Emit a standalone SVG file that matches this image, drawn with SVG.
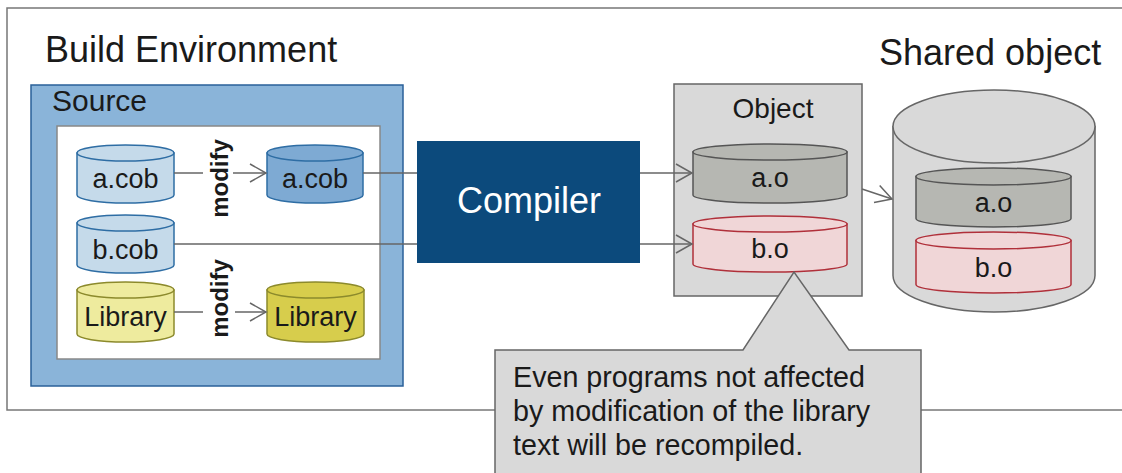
<svg xmlns="http://www.w3.org/2000/svg" width="1122" height="473" viewBox="0 0 1122 473">
<style>
text{font-family:"Liberation Sans",Arial,sans-serif;fill:#1a1a1a}
.title{font-size:36px}
.lbl{font-size:27px;text-anchor:middle}
.cyl-l{fill:#c5daea;stroke:#2e6da4;stroke-width:1.5}
.cyl-d{fill:#7eaad3;stroke:#2e6da4;stroke-width:1.5}
.lib-l{fill:#eeeb9e;stroke:#8c8a2c;stroke-width:1.5}
.lib-d{fill:#d7cd4c;stroke:#8c8a2c;stroke-width:1.5}
.obj-a{fill:#b6b7b2;stroke:#555;stroke-width:1.5}
.obj-b{fill:#f0d6d7;stroke:#b0303a;stroke-width:1.5}
.gray{fill:#d9d9d9;stroke:#666;stroke-width:1.5}
.conn line{stroke:#666;stroke-width:1.5;fill:none}
.arr{marker-end:url(#head)}
.mod{font-size:24px;font-weight:bold;text-anchor:middle}
.note{font-size:28.7px}
</style>
<defs>
<marker id="head" markerUnits="userSpaceOnUse" markerWidth="20" markerHeight="22" viewBox="-18 -11 20 22" refX="0" refY="0" orient="auto">
<path d="M-16,-9 L0,0 L-16,9" fill="none" stroke="#666" stroke-width="1.5"/>
</marker>
</defs>
<rect x="7" y="8" width="1130" height="402" fill="#fff" stroke="#777" stroke-width="1.5"/>
<text class="title" x="45" y="62">Build Environment</text>
<text class="title" x="879" y="65">Shared object</text>

<g id="source">
<rect x="31" y="85" width="372" height="301" fill="#8ab4d9" stroke="#2a6099" stroke-width="1.5"/>
<text x="52" y="111" style="font-size:30px">Source</text>
<rect x="57" y="126" width="323" height="233" fill="#fff" stroke="#888" stroke-width="1.5"/>
</g>

<g id="acob-src">
<path class="cyl-l" d="M77,153 V195 A48.5,8 0 0 0 174,195 V153 Z"/>
<ellipse class="cyl-l" cx="125.5" cy="153" rx="48.5" ry="8"/>
<text class="lbl" x="125.5" y="188">a.cob</text>
</g>
<g id="acob-mod">
<path class="cyl-d" d="M267,153 V195 A48,8 0 0 0 363,195 V153 Z"/>
<ellipse class="cyl-d" cx="315" cy="153" rx="48" ry="8"/>
<text class="lbl" x="315" y="188">a.cob</text>
</g>
<g id="bcob">
<path class="cyl-l" d="M77,223 V265 A48.5,8 0 0 0 174,265 V223 Z"/>
<ellipse class="cyl-l" cx="125.5" cy="223" rx="48.5" ry="8"/>
<text class="lbl" x="125.5" y="259">b.cob</text>
</g>
<g id="lib-src">
<path class="lib-l" d="M77,290 V334 A48.5,8 0 0 0 174,334 V290 Z"/>
<ellipse class="lib-l" cx="125.5" cy="290" rx="48.5" ry="8"/>
<text class="lbl" x="125.5" y="326">Library</text>
</g>
<g id="lib-mod">
<path class="lib-d" d="M267,290 V334 A48.5,8 0 0 0 364,334 V290 Z"/>
<ellipse class="lib-d" cx="315.5" cy="290" rx="48.5" ry="8"/>
<text class="lbl" x="315.5" y="326">Library</text>
</g>

<g id="compiler">
<rect x="417" y="141" width="223" height="122" fill="#0c4a7c"/>
<text x="529" y="213" style="font-size:36px;text-anchor:middle;fill:#fff">Compiler</text>
</g>

<g id="object">
<rect class="gray" x="674" y="84" width="188" height="212"/>
<text x="773" y="118" style="font-size:28px;text-anchor:middle">Object</text>
<path class="obj-a" d="M693,152 V195 A77,8 0 0 0 847,195 V152 Z"/>
<ellipse class="obj-a" cx="770" cy="152" rx="77" ry="8"/>
<text class="lbl" x="770" y="187">a.o</text>
<path class="obj-b" d="M693,224 V264 A77,8 0 0 0 847,264 V224 Z"/>
<ellipse class="obj-b" cx="770" cy="224" rx="77" ry="8"/>
<text class="lbl" x="770" y="258">b.o</text>
</g>

<g id="shared">
<path class="gray" d="M893,126.5 V275.5 A101,36.5 0 0 0 1095,275.5 V126.5 Z"/>
<ellipse class="gray" cx="994" cy="126.5" rx="101" ry="36.5"/>
<path class="obj-a" d="M916,176.5 V218.5 A77.5,8.5 0 0 0 1071,218.5 V176.5 Z"/>
<ellipse class="obj-a" cx="993.5" cy="176.5" rx="77.5" ry="8.5"/>
<text class="lbl" x="993.5" y="212">a.o</text>
<path class="obj-b" d="M916,240.5 V284.5 A77.5,8.5 0 0 0 1071,284.5 V240.5 Z"/>
<ellipse class="obj-b" cx="993.5" cy="240.5" rx="77.5" ry="8.5"/>
<text class="lbl" x="993.5" y="277">b.o</text>
</g>

<g id="connectors" class="conn">
<line x1="174" y1="173" x2="203" y2="173"/>
<line class="arr" x1="233" y1="173" x2="266" y2="173"/>
<line x1="174" y1="312" x2="203" y2="312"/>
<line class="arr" x1="235" y1="312" x2="266" y2="312"/>
<line x1="363" y1="173" x2="417" y2="173"/>
<line x1="174" y1="244" x2="417" y2="244"/>
<line class="arr" x1="640" y1="173" x2="692" y2="173"/>
<line class="arr" x1="640" y1="244" x2="692" y2="244"/>
<line class="arr" x1="862" y1="189" x2="892" y2="199"/>
<text class="mod" transform="translate(228,178.5) rotate(-90)">modify</text>
<text class="mod" transform="translate(228,298.5) rotate(-90)">modify</text>
</g>

<g id="callout">
<path class="gray" d="M495,350 H743 L794,272 L849,350 H921 V480 H495 Z"/>
<text class="note" x="513" y="387">Even programs not affected</text>
<text class="note" x="513" y="421">by modification of the library</text>
<text class="note" x="513" y="455">text will be recompiled.</text>
</g>
</svg>
